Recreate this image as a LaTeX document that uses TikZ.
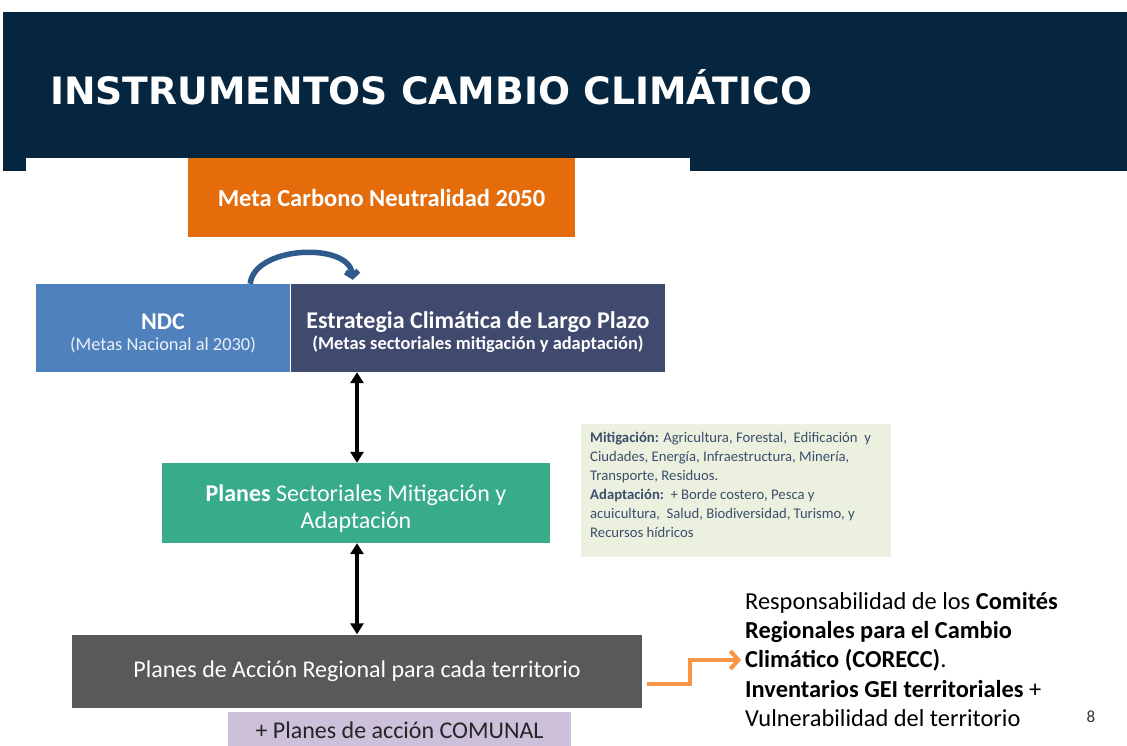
\documentclass[tikz,border=0pt]{standalone}
\usepackage{fontspec}
\setmainfont{Carlito}
\newfontfamily\titlefont{DejaVu Sans}
\usetikzlibrary{arrows.meta,calc}
\definecolor{navy}{HTML}{06263F}
\definecolor{orangebox}{HTML}{E46C0A}
\definecolor{ndcblue}{HTML}{4F81BD}
\definecolor{slate}{HTML}{404A6E}
\definecolor{teal}{HTML}{38AC8A}
\definecolor{darkgray}{HTML}{595959}
\definecolor{lilac}{HTML}{CCC0DA}
\definecolor{notebg}{HTML}{EBF1DE}
\definecolor{notetext}{HTML}{3C4E6E}
\definecolor{curveblue}{HTML}{2E5B8C}
\definecolor{lightorange}{HTML}{F79646}
\begin{document}
\begin{tikzpicture}[x=1pt,y=-1pt,
  box/.style={draw=none,inner sep=0pt,align=center,text=white},
  dblarrow/.style={line width=3.5pt,black,{Triangle[width=13pt,length=11pt]}-{Triangle[width=13pt,length=11pt]}}]
\useasboundingbox (0,0) rectangle (1127,746);
\fill[white] (0,0) rectangle (1127,746);
\fill[navy] (3,12) rectangle (1127,171);
\fill[white] (26,158) rectangle (690,171);
\node[anchor=west,text=white,inner sep=0pt,font=\titlefont\bfseries\fontsize{37.7}{42}\selectfont] (title) at (50,87)
  {INSTRUMENTOS CAMBIO CLIMÁTICO};

\node[box,fill=orangebox,minimum width=387pt,minimum height=79pt,font=\bfseries\fontsize{24.5}{28}\selectfont] (meta) at (381.5,197.5)
  {Meta Carbono Neutralidad 2050};

\node[box,fill=ndcblue,minimum width=254pt,minimum height=88pt,font=\bfseries\fontsize{24}{24}\selectfont] (ndc) at (163,328)
  {\rule{0pt}{26pt}NDC\\[-3pt]
   {\mdseries\fontsize{18.4}{22}\selectfont\color{white!88!ndcblue}(Metas Nacional al 2030)}};
\node[box,fill=slate,minimum width=374pt,minimum height=88pt,font=\bfseries\fontsize{24}{24}\selectfont] (est) at (478,328)
  {\rule{0pt}{26pt}Estrategia Climática de Largo Plazo\\[-3pt]
   {\fontsize{18.4}{22}\selectfont (Metas sectoriales mitigación y adaptación)}};

\node[box,fill=teal,minimum width=388pt,minimum height=80pt,font=\fontsize{24}{27}\selectfont] (sect) at (356,503)
  {\rule{0pt}{28pt}\textbf{Planes} Sectoriales Mitigación y\\Adaptación};

\node[box,fill=darkgray,minimum width=570pt,minimum height=73pt,font=\fontsize{24}{28}\selectfont] (acc) at (357,671)
  {Planes de Acción Regional para cada territorio};
\node[box,fill=lilac,text=black!85,minimum width=343pt,minimum height=36pt,font=\fontsize{24}{28}\selectfont] (com) at (399.5,730)
  {+ Planes de acción COMUNAL};

\node[draw=none,fill=notebg,minimum width=310pt,minimum height=133pt] (note) at (736,490.5) {};
\node[anchor=north west,inner sep=0pt,text=notetext,align=left,font=\fontsize{14.7}{19}\selectfont] (notetxt) at (590,432)
  {\textbf{Mitigación:} Agricultura, Forestal,\ \ Edificación\ \ y\\
   Ciudades, Energía, Infraestructura, Minería,\\
   Transporte, Residuos.\\
   \textbf{Adaptación:}\ \ + Borde costero, Pesca y\\
   acuicultura,\ \ Salud, Biodiversidad, Turismo, y\\
   Recursos hídricos};

\draw[dblarrow] (sect.north -| 357,0) -- (est.south -| 357,0);
\draw[dblarrow] (acc.north -| 357,0) -- (sect.south -| 357,0);

\draw[curveblue,line width=5.5pt,-{Straight Barb[width=13pt,length=5pt]}]
  ($(ndc.north east)+(-40,0)$) .. controls +(4,-38) and +(-4,-38) .. ($(est.north west)+(62,-4)$);

\node[anchor=north west,inner sep=0pt,align=left,text=black,font=\fontsize{24.4}{29.3}\selectfont] (resp) at (745,592)
  {Responsabilidad de los \textbf{Comités}\\
   \textbf{Regionales para el Cambio}\\
   \textbf{Climático (CORECC)}.\\
   \textbf{Inventarios GEI territoriales} +\\
   Vulnerabilidad del territorio};
\coordinate (arrend) at (741,660);
\draw[lightorange,line width=4pt,-{Straight Barb[width=18pt,length=8pt]}]
  ($(acc.east)+(5,12.5)$) -| (690,660) -- (arrend);

\node[text=black!80,inner sep=0pt,font=\fontsize{17}{18}\selectfont] (pnum) at (1091,717) {8};
\end{tikzpicture}
\end{document}
